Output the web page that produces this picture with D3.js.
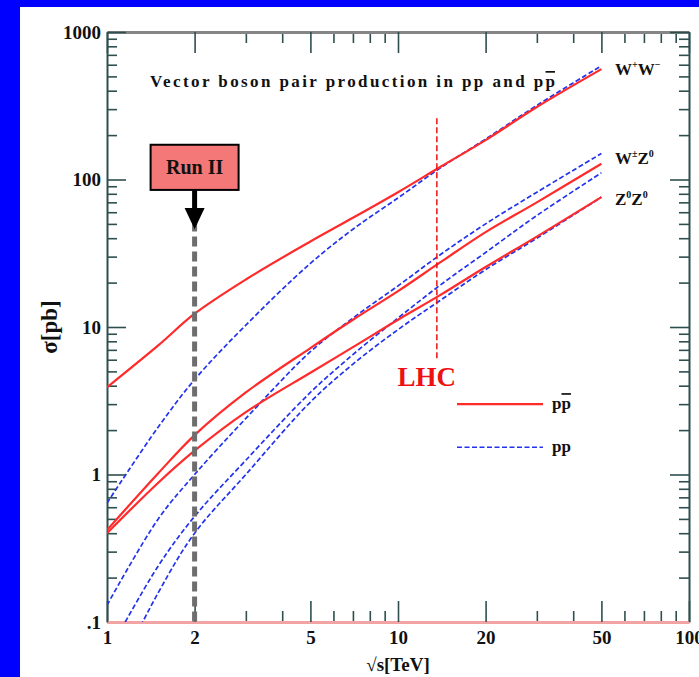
<!DOCTYPE html>
<html>
<head>
<meta charset="utf-8">
<script src="https://cdn.jsdelivr.net/npm/d3@7"></script>
<style>
  body { margin: 0; background: #0000ff; }
  svg { display: block; }
  text { font-family: "Liberation Serif", serif; font-weight: bold; fill: #111; }
</style>
</head>
<body>
<svg id="chart"></svg>
<script>
// sqrt(s) in TeV
const energies = [1, 1.5, 2, 3, 5, 7, 10, 14, 20, 30, 50];

// cross sections in pb
const wwPpbar = [3.9, 7.5, 12.3, 21, 38, 55, 82, 122, 185, 310, 560];
const wwPp = [0.64, 2.1, 4.4, 10.3, 27, 46, 75, 120, 188, 318, 590];
const wzPpbar = [0.42, 1.02, 1.85, 3.6, 7.2, 11.2, 17.5, 27.5, 44, 70, 128];
const zzPpbar = [0.40, 0.88, 1.45, 2.65, 4.9, 7.3, 11.2, 16.5, 25.5, 41, 76];
const wpzPp = [0.13, 0.5, 1.0, 2.4, 6.8, 11.5, 19, 31, 50, 82, 150];
const wmzPp = [0.06, 0.24, 0.52, 1.25, 3.6, 6.5, 11.5, 19.3, 32, 57, 111];
const zzPp = [0.033, 0.158, 0.40, 1.0, 3.1, 5.6, 9.6, 15.2, 24.5, 40, 76];

const xMajor = [1, 2, 5, 10, 20, 50, 100];
const xTickLabels = ['1', '2', '5', '10', '20', '50', '100'];
const xMinor = [3, 4, 6, 7, 8, 9, 30, 40, 60, 70, 80, 90];
const yMajor = [0.1, 1, 10, 100, 1000];
const yTickLabels = ['.1', '1', '10', '100', '1000'];
const yMinor = [];
[0.1, 1, 10, 100].forEach((d) => {
  for (let k = 2; k <= 9; k++) yMinor.push(d * k);
});

const runII = 2;
const lhc = 13.6;

const width = 699;
const height = 677;
const plotLeft = 107;
const plotRight = 689;
const plotTop = 32;
const plotBottom = 622;

const red = '#ff2a2a';
const blue = '#2233ee';
const axisColor = '#2f4f4f';

const svg = d3.select('#chart')
  .attr('width', width)
  .attr('height', height);

// white panel on the blue slide
svg.append('rect')
  .attr('x', 20).attr('y', 7)
  .attr('width', width - 20).attr('height', height - 7)
  .attr('fill', '#fff');

const xScale = d3.scaleLog().domain([1, 100]).range([plotLeft, plotRight]);
const yScale = d3.scaleLog().domain([0.1, 1000]).range([plotBottom, plotTop]);

svg.append('clipPath').attr('id', 'plot')
  .append('rect')
  .attr('x', plotLeft).attr('y', plotTop)
  .attr('width', plotRight - plotLeft).attr('height', plotBottom - plotTop);

function styleAxis(g, domainColor, domainWidth) {
  g.select('.domain').attr('stroke', domainColor).attr('stroke-width', domainWidth);
  g.selectAll('.tick line').attr('stroke', axisColor).attr('stroke-width', 1.6);
  g.selectAll('.tick text')
    .attr('font-family', '"Liberation Serif", serif')
    .attr('font-weight', 'bold')
    .attr('font-size', 19)
    .attr('fill', '#111');
}

function minorTicks(g) {
  g.select('.domain').remove();
  g.selectAll('.tick line').attr('stroke', axisColor).attr('stroke-width', 1.6);
}

// minor ticks
svg.append('g')
  .attr('transform', `translate(0, ${plotBottom})`)
  .call(d3.axisBottom(xScale).tickValues(xMinor).tickSize(-11).tickSizeOuter(0).tickFormat(''))
  .call(minorTicks);
svg.append('g')
  .attr('transform', `translate(0, ${plotTop})`)
  .call(d3.axisTop(xScale).tickValues(xMinor).tickSize(-11).tickSizeOuter(0).tickFormat(''))
  .call(minorTicks);
svg.append('g')
  .attr('transform', `translate(${plotLeft}, 0)`)
  .call(d3.axisLeft(yScale).tickValues(yMinor).tickSize(-10).tickSizeOuter(0).tickFormat(''))
  .call(minorTicks);
svg.append('g')
  .attr('transform', `translate(${plotRight}, 0)`)
  .call(d3.axisRight(yScale).tickValues(yMinor).tickSize(-10).tickSizeOuter(0).tickFormat(''))
  .call(minorTicks);

// major ticks and frame
svg.append('g')
  .attr('transform', `translate(0, ${plotTop})`)
  .call(d3.axisTop(xScale).tickValues(xMajor).tickSize(-21).tickSizeOuter(0).tickFormat(''))
  .call((g) => styleAxis(g, '#858585', 3));
svg.append('g')
  .attr('transform', `translate(${plotRight}, 0)`)
  .call(d3.axisRight(yScale).tickValues(yMajor).tickSize(-19).tickSizeOuter(0).tickFormat(''))
  .call((g) => styleAxis(g, axisColor, 2));
svg.append('g')
  .attr('transform', `translate(${plotLeft}, 0)`)
  .call(d3.axisLeft(yScale).tickValues(yMajor).tickSize(-19).tickSizeOuter(0).tickPadding(6)
    .tickFormat((d, i) => yTickLabels[i]))
  .call((g) => styleAxis(g, axisColor, 2));
svg.append('g')
  .attr('transform', `translate(0, ${plotBottom})`)
  .call(d3.axisBottom(xScale).tickValues(xMajor).tickSize(-21).tickSizeOuter(0).tickPadding(9)
    .tickFormat((d, i) => xTickLabels[i]))
  .call((g) => styleAxis(g, '#f2a3a3', 3));

// axis titles
svg.append('text')
  .attr('x', (plotLeft + plotRight) / 2).attr('y', 671)
  .attr('text-anchor', 'middle').attr('font-size', 19)
  .text('\u221As[TeV]');
svg.append('text')
  .attr('transform', `translate(57, ${(plotTop + plotBottom) / 2}) rotate(-90)`)
  .attr('text-anchor', 'middle').attr('font-size', 23)
  .text('\u03C3[pb]');

// title
const title = svg.append('text')
  .attr('x', 150).attr('y', 87)
  .attr('font-size', 17)
  .attr('textLength', 405).attr('lengthAdjust', 'spacing');
title.append('tspan').text('Vector boson pair production in pp and p');
title.append('tspan').attr('text-decoration', 'overline').text('p');

// curves
const line = d3.line()
  .x((d) => xScale(d[0]))
  .y((d) => yScale(d[1]))
  .curve(d3.curveCatmullRom);

const series = [
  {values: wwPp, color: blue, dash: '5,2.5', w: 1.7},
  {values: wpzPp, color: blue, dash: '5,2.5', w: 1.7},
  {values: wmzPp, color: blue, dash: '5,2.5', w: 1.7},
  {values: zzPp, color: blue, dash: '5,2.5', w: 1.7},
  {values: wwPpbar, color: red, dash: null, w: 2.2},
  {values: wzPpbar, color: red, dash: null, w: 2.2},
  {values: zzPpbar, color: red, dash: null, w: 2.2},
];

const curves = svg.append('g').attr('clip-path', 'url(#plot)');
curves.selectAll('path')
  .data(series)
  .enter()
  .append('path')
  .attr('d', (s) => line(energies.map((e, i) => [e, s.values[i]])))
  .attr('fill', 'none')
  .attr('stroke', (s) => s.color)
  .attr('stroke-width', (s) => s.w)
  .attr('stroke-dasharray', (s) => s.dash);

// process labels
function procLabel(yv, parts) {
  const t = svg.append('text')
    .attr('x', 615).attr('y', yScale(yv) + 6)
    .attr('font-size', 17);
  parts.forEach(([s, sup]) => {
    const ts = t.append('tspan').text(s);
    if (sup) ts.attr('font-size', 10).attr('baseline-shift', '70%');
  });
}
procLabel(560, [['W'], ['+', true], ['W'], ['\u2212', true]]);
procLabel(140, [['W'], ['\u00B1', true], ['Z'], ['0', true]]);
procLabel(74, [['Z'], ['0', true], ['Z'], ['0', true]]);

// LHC marker
svg.append('line')
  .attr('x1', xScale(lhc)).attr('x2', xScale(lhc))
  .attr('y1', yScale(260)).attr('y2', yScale(5.9))
  .attr('stroke', '#ee1111').attr('stroke-width', 1.5)
  .attr('stroke-dasharray', '6,3');
svg.append('text')
  .attr('x', xScale(lhc) - 10).attr('y', yScale(4))
  .attr('text-anchor', 'middle').attr('font-size', 27)
  .style('fill', '#ee1111')
  .text('LHC');

// Run II marker
svg.append('line')
  .attr('x1', xScale(runII)).attr('x2', xScale(runII))
  .attr('y1', yScale(52)).attr('y2', plotBottom)
  .attr('stroke', '#6e6e6e').attr('stroke-width', 5)
  .attr('stroke-dasharray', '10,5');
svg.append('line')
  .attr('x1', xScale(runII)).attr('x2', xScale(runII))
  .attr('y1', yScale(85)).attr('y2', yScale(62))
  .attr('stroke', '#000').attr('stroke-width', 5);
svg.append('path')
  .attr('d', `M${xScale(runII) - 10},${yScale(64)} L${xScale(runII) + 10},${yScale(64)} L${xScale(runII)},${yScale(46)} Z`)
  .attr('fill', '#000');
svg.append('rect')
  .attr('x', xScale(runII) - 44).attr('y', yScale(172))
  .attr('width', 88).attr('height', yScale(85) - yScale(172))
  .attr('fill', '#f47878').attr('stroke', '#000').attr('stroke-width', 2);
svg.append('text')
  .attr('x', xScale(runII)).attr('y', yScale(172) + 29)
  .attr('text-anchor', 'middle').attr('font-size', 20)
  .text('Run II');

// legend
const legend = [
  {label: 'p', bar: 'p', color: red, dash: null, w: 2.2, yv: 3.0},
  {label: 'pp', bar: '', color: blue, dash: '5,2.5', w: 1.7, yv: 1.53},
];
legend.forEach((l) => {
  svg.append('line')
    .attr('x1', 457).attr('x2', 543)
    .attr('y1', yScale(l.yv)).attr('y2', yScale(l.yv))
    .attr('stroke', l.color).attr('stroke-width', l.w)
    .attr('stroke-dasharray', l.dash);
  const t = svg.append('text')
    .attr('x', 552).attr('y', yScale(l.yv) + 5)
    .attr('font-size', 17);
  t.append('tspan').text(l.label);
  if (l.bar) t.append('tspan').attr('text-decoration', 'overline').text(l.bar);
});
</script>
</body>
</html>
